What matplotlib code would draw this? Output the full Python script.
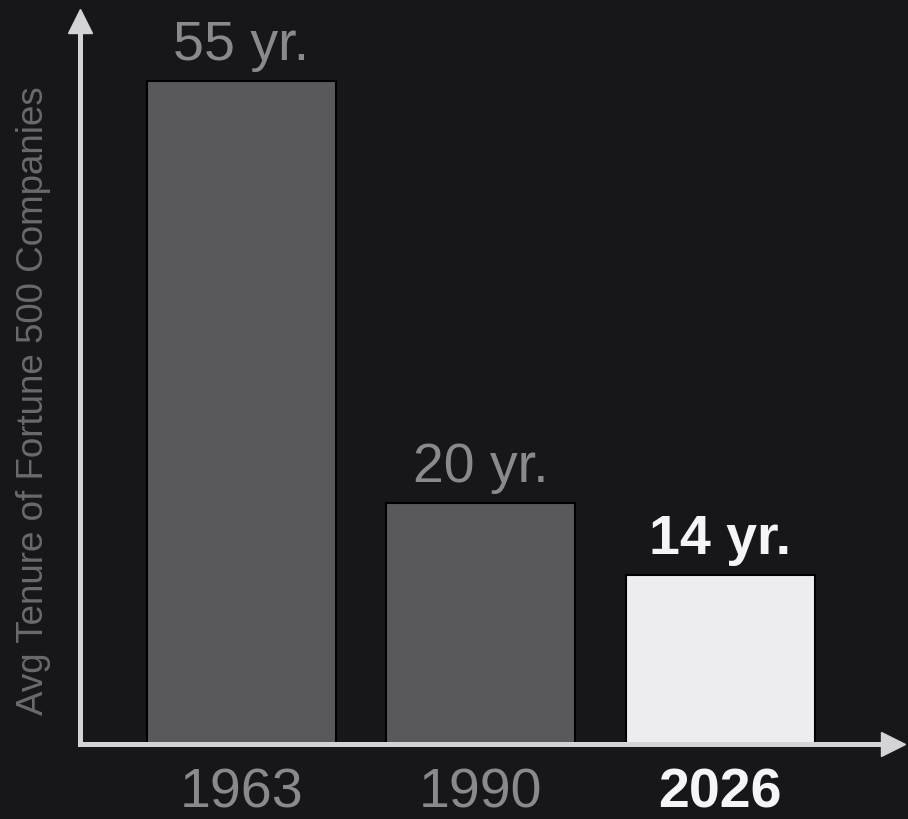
import matplotlib.pyplot as plt

# Average tenure of Fortune 500 companies, by year
years = ["1963", "1990", "2026"]
tenure = [55, 20, 14]
bar_labels = ["55 yr.", "20 yr.", "14 yr."]

bg = "#17171a"
axis_col = "#d4d4d6"
gray_bar = "#59595c"
light_bar = "#ededf0"
gray_text = "#8a8a8e"
white_text = "#f5f5f7"

plt.rcParams["font.family"] = ["Liberation Sans", "DejaVu Sans"]

fig = plt.figure(figsize=(9.08, 8.2), dpi=100, facecolor=bg)
ax = fig.add_axes([0.0881, 0.0915, 0.8949, 0.8815], facecolor=bg)

x = range(len(years))
colors = [gray_bar, gray_bar, light_bar]
bars = ax.bar(x, tenure, width=0.79, color=colors, edgecolor="black", linewidth=1.5, zorder=1)

# value labels above each bar
for i, (b, lab) in enumerate(zip(bars, bar_labels)):
    last = i == len(bars) - 1
    ax.annotate(lab, (b.get_x() + b.get_width() / 2, b.get_height()),
                xytext=(0, 16), textcoords="offset points",
                ha="center", va="baseline", fontsize=40,
                color=white_text if last else gray_text,
                fontweight="bold" if last else "normal")

ax.set_xlim(-0.674, 2.72)
ax.set_ylim(0, 60)

# arrow-style axes
for s in ["top", "right"]:
    ax.spines[s].set_visible(False)
for s in ["left", "bottom"]:
    ax.spines[s].set_color(axis_col)
    ax.spines[s].set_linewidth(3.6)
    ax.spines[s].set_zorder(3)
ax.plot(1, 0, ">", color=axis_col, ms=17, transform=ax.transAxes, clip_on=False)
ax.plot(0, 1, "^", color=axis_col, ms=17, transform=ax.transAxes, clip_on=False)

ax.set_yticks([])
ax.set_xticks(list(x))
ax.set_xticklabels(years, fontsize=40)
ax.tick_params(axis="x", length=0, pad=16)
for i, t in enumerate(ax.get_xticklabels()):
    if i == len(years) - 1:
        t.set_color(white_text)
        t.set_fontweight("bold")
    else:
        t.set_color(gray_text)

ax.set_ylabel("Avg Tenure of Fortune 500 Companies", fontsize=26.5, color="#6a6a6e")
ax.yaxis.set_label_coords(-0.036, 0.477)

fig.savefig("out.png", dpi=100, facecolor=bg)
